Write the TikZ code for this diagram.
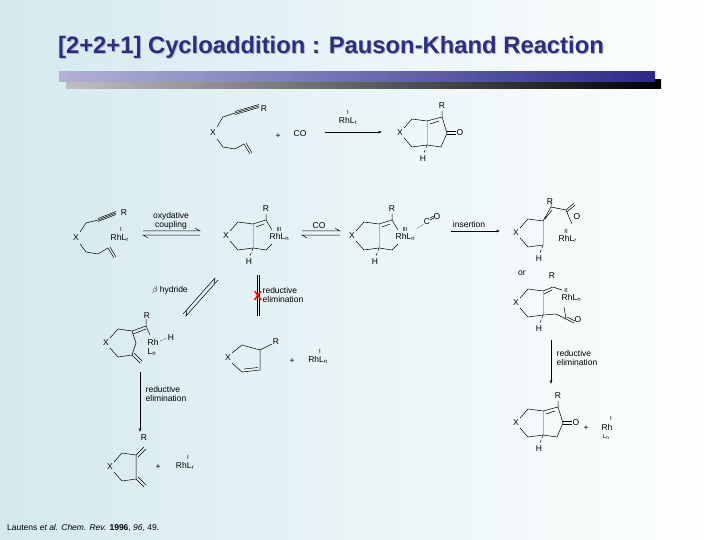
\documentclass[tikz,border=0pt]{standalone}
\usepackage{fontspec}
\setmainfont{Liberation Sans}
\usetikzlibrary{arrows.meta,calc}
\begin{document}
\begin{tikzpicture}[x=1pt,y=-1pt,
  lab/.style={font=\fontsize{8.5}{9.5}\selectfont, inner sep=0.5pt},
  sm/.style={font=\fontsize{6}{6}\selectfont, inner sep=0pt},
  bd/.style={line width=0.5pt},
  rarr/.style={bd,-{Stealth[length=4pt,width=2.5pt]}},
  pics/lring/.style={code={
    \draw[bd] (4,-5)--(12,-14)--(27,-12) (4,5)--(12,14)--(27,12);
    \draw[bd,gray!60] (27,-12)--(27,12);
    \node[lab] (-x) at (0,0) {X};
    \draw[bd,densely dashed] (27,12)--(24,20);
    \node[lab] (-h) at (23,26) {H};}},
  pics/kring/.style={code={
    \draw[bd] (27,-12)--(42,-16)--(47,0)--(41,14)--(27,12);
    \draw[bd] (30,-9)--(39,-12) (42,-16)--(42,-22);
    \draw[bd] (47,-1.5)--(56,-1.5) (47,1.5)--(56,1.5);
    \node[lab] (-r) at (42,-27) {R};
    \node[lab] (-o) at (60,0) {O};}},
  pics/mring/.style={code={
    \draw[bd] (27,-12)--(40,-16)--(46,-6) (46,8)--(40,14)--(27,12);
    \draw[bd] (30,-9)--(38,-12) (40,-16)--(40,-22);
    \node[lab] (-r) at (40,-27) {R};
    \node[sm] (-ox) at (53,-7) {III};
    \node[lab,anchor=west] (-rh) at (43,1) {RhL$_\mathrm{n}$};}}
]
\useasboundingbox (0,0) rectangle (720,540);
\shade[left color={rgb,255:red,212;green,233;blue,238}, right color=white] (0,0) rectangle (720,540);
% title
\node[font=\bfseries\fontsize{23.8}{25}\selectfont, text={rgb,255:red,180;green,180;blue,200}] (tsh) at (332,48) {[2+2+1] Cycloaddition : Pauson-Khand Reaction};
\node[font=\bfseries\fontsize{23.8}{25}\selectfont, text={rgb,255:red,44;green,46;blue,128}] (title) at (331,47) {[2+2+1] Cycloaddition : Pauson-Khand Reaction};
\shade[left color=gray!50, right color=black] (66,80) rectangle (661,89);
\shade[left color={rgb,255:red,178;green,178;blue,214}, right color={rgb,255:red,42;green,42;blue,140}] (59,72) rectangle (655,82);

% top reaction: enyne
\begin{scope}[shift={(213,133)}]
 \node[lab] (e1x) at (0,0) {X};
 \draw[bd] (4,-6)--(10,-16)--(22,-20);
 \draw[bd] (22,-20)--(46,-27) (22,-18.5)--(46,-25.5) (22,-21.5)--(46,-28.5);
 \node[lab] (e1r) at (51,-24) {R};
 \draw[bd] (4,6)--(10,14)--(22,16)--(31,11)--(37,21) (33,10)--(39,20);
\end{scope}
\node[lab] (p1) at (278,136) {+};
\node[lab] (co1) at (300,134) {CO};
\coordinate (a1s) at (325,132); \coordinate (a1e) at (382,132);
\draw[rarr] (a1s)--(a1e);
\node[sm] (a1i) at (348,112) {I};
\node[lab] (a1l) at (348,121) {RhL$_\mathrm{r}$};
\pic (pr1) at (400,133) {lring};
\pic (pr1k) at (400,133) {kring};

% row 2 : A
\begin{scope}[shift={(76,238)}]
 \node[lab] (ax) at (0,0) {X};
 \draw[bd] (4,-6)--(10,-15)--(22,-18);
 \draw[bd] (22,-18)--(40,-25) (22,-16.5)--(40,-23.5) (22,-19.5)--(40,-26.5);
 \node[lab] (ar) at (48,-25) {R};
 \draw[bd] (4,6)--(10,14)--(22,16)--(32,10)--(38,20) (34,9)--(40,19);
 \node[sm] (ai) at (45,-9) {I};
 \node[lab,anchor=west] (arh) at (34,0) {RhL$_\mathrm{r}$};
\end{scope}
\node[lab,align=center] (oxc) at (171,221) {oxydative\\coupling};
\coordinate (q1a) at (143,231); \coordinate (q1b) at (200,231);
\coordinate (q1c) at (143,235); \coordinate (q1d) at (200,235);
\draw[bd] (q1a)--(q1b)--++(-5,-3); \draw[bd] (q1d)--(q1c)--++(5,3);
\pic (b) at (226,236) {lring}; \pic (bm) at (226,236) {mring};
\node[lab] (coq) at (319,226) {CO};
\coordinate (q2a) at (302,231); \coordinate (q2b) at (340,231);
\coordinate (q2c) at (302,235); \coordinate (q2d) at (340,235);
\draw[bd] (q2a)--(q2b)--++(-5,-3); \draw[bd] (q2d)--(q2c)--++(5,3);
\pic (c) at (352,236) {lring}; \pic (cm) at (352,236) {mring};
\draw[bd,densely dotted] (416,229)--(424,224);
\node[lab] (cc) at (427,222) {C};
\draw[bd] (430,220)--(434,218) (430,218)--(434,216);
\node[lab] (cco) at (437,217) {O};
\node[lab] (ins) at (469,224) {insertion};
\coordinate (i1) at (451,231); \coordinate (i2) at (500,231);
\draw[rarr] (i1)--(i2);
% D
\begin{scope}[shift={(516,233)}]
 \pic (d) at (0,0) {lring};
 \draw[bd] (27,-12)--(35,-26) (29,-14)--(36,-23) (35,-26)--(50,-23)--(56,-9);
 \draw[bd] (35,-26)--(35,-31) (50,-23)--(58,-30) (51,-21)--(59,-28);
 \node[lab] (dr) at (34,-31) {R};
 \node[lab] (do) at (61,-16) {O};
 \node[sm] (dii) at (50,-2) {II};
 \node[lab,anchor=west] (drh) at (42,6) {RhL$_\mathrm{r}$};
\end{scope}
\node[lab] (or) at (522,273) {or};
\node[lab] (er) at (552,276) {R};
% E
\begin{scope}[shift={(516,303)}]
 \pic (e) at (0,0) {lring};
 \draw[bd] (27,-12)--(37,-16) (28,-9)--(36,-13) (37,-16)--(46,-13);
 \draw[bd] (27,12)--(40,11)--(50,16) (50,16)--(58,20) (51,14)--(59,18) (50,16)--(48,4);
 \node[lab] (eo) at (62,17) {O};
 \node[sm] (eii) at (50,-13) {II};
 \node[lab,anchor=west] (erh) at (45,-5) {RhL$_\mathrm{n}$};
\end{scope}
\coordinate (v1) at (551,340); \coordinate (v2) at (551,384);
\draw[rarr] (v1)--(v2);
\node[lab,align=left,anchor=west] (re3) at (556,358) {reductive\\elimination};
\pic (f) at (516,423) {lring}; \pic (fk) at (516,423) {kring};
\node[lab] (pf) at (586,428) {+};
\node[sm] (fi) at (611,418) {I};
\node[lab] (frh) at (607,427) {Rh};
\node[sm] (fl) at (606,437) {L$_\mathrm{n}$};

% left column
\node[lab] (bh) at (170,290) {$\beta$ hydride};
\coordinate (d1) at (218,280); \coordinate (d2) at (186,316);
\draw[bd] (d1)--(d2)--++(1,-6); \draw[bd] ($(d1)+(-3,-2)$)--($(d2)+(-3,-2)$);
\draw[bd] ($(d1)+(-3,-2)$)--++(-1,6);
\coordinate (u1) at (257,275); \coordinate (u2) at (257,316);
\draw[bd] (u1)--(u2) (259,275)--(259,316);
\node[text=red, font=\bfseries\fontsize{13}{13}\selectfont, inner sep=0] (xm) at (258,296) {X};
\node[lab,align=left,anchor=west] (re1) at (262,295) {reductive\\elimination};
% G
\begin{scope}[shift={(106,343)}]
 \node[lab] (gx) at (0,0) {X};
 \draw[bd] (4,-5)--(12,-14)--(26,-12)--(30,0)--(26,12)--(12,14)--(4,5);
 \draw[bd] (26,-12)--(40,-17) (27,-9)--(40,-14) (40,-17)--(40,-24);
 \draw[bd] (26,12)--(34,20) (28,10)--(36,18);
 \node[lab] (gr) at (41,-27) {R};
 \draw[bd] (40,-17)--(44,-8);
 \node[lab,anchor=west] (grh) at (41,-1) {Rh};
 \draw[bd,densely dotted] (54,-2)--(61,-5);
 \node[lab] (gh) at (65,-5) {H};
 \node[lab] (gl) at (46,9) {L$_\mathrm{n}$};
\end{scope}
\coordinate (w1) at (140,372); \coordinate (w2) at (140,432);
\draw[rarr] (w1)--(w2);
\node[lab,align=left,anchor=west] (re2) at (145,394) {reductive\\elimination};
% H
\begin{scope}[shift={(110,467)}]
 \node[lab] (hx) at (0,0) {X};
 \draw[bd] (4,-5)--(12,-14)--(26,-12)--(26,12)--(12,14)--(4,5);
 \draw[bd] (26,-12)--(34,-20) (28,-10)--(36,-18);
 \draw[bd] (26,12)--(34,20) (28,10)--(36,18);
 \node[lab] (hr) at (34,-29) {R};
\end{scope}
\node[lab] (ph) at (158,467) {+};
\node[sm] (hi) at (188,457) {I};
\node[lab] (hrh) at (185,466) {RhL$_\mathrm{r}$};
% cyclopentene
\begin{scope}[shift={(228,358)}]
 \node[lab] (kx) at (0,0) {X};
 \draw[bd] (4,-5)--(14,-13)--(32,-8)--(32,12)--(14,14)--(4,5);
 \draw[bd] (16,11)--(30,9.5) (32,-8)--(44,-14);
 \node[lab] (kr) at (48,-16) {R};
\end{scope}
\node[lab] (pk) at (292,361) {+};
\node[sm] (ki) at (320,351) {I};
\node[lab] (krh) at (318,360) {RhL$_\mathrm{n}$};

\node[anchor=west, font=\fontsize{8.5}{9}\selectfont, inner sep=0] (cite) at (7,528) {Lautens \textit{et al. Chem. Rev.} \textbf{1996}, \textit{96}, 49.};
\end{tikzpicture}
\end{document}
